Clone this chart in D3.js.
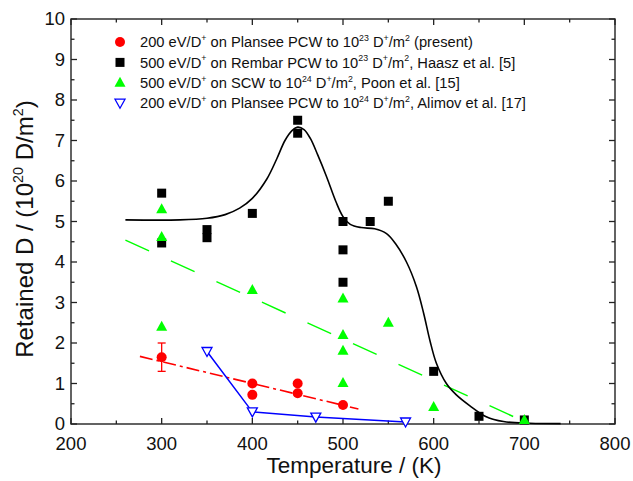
<!DOCTYPE html>
<html>
<head>
<meta charset="utf-8">
<script src="https://cdn.jsdelivr.net/npm/d3@7/dist/d3.min.js"></script>
<style>
  body { margin: 0; background: #fff; }
  svg { display: block; font-family: "Liberation Sans", Arial, sans-serif; }
</style>
</head>
<body>
<svg id="chart" width="633" height="481"></svg>
<script>
// values: [temperature K, retained D 1e20/m2]
var present = [[300, 1.65], [400, 1.0], [400, 0.72], [450, 1.0], [450, 0.76], [500, 0.47]];
var presentErr = [[300, 1.3, 2.0]];
var presentFit = [[276, 1.67], [517, 0.37]];
var haasz = [[300, 5.7], [300, 4.47], [350, 4.8], [350, 4.6], [400, 5.2], [450, 7.5], [450, 7.18],
  [500, 5.0], [500, 4.3], [500, 3.5], [530, 5.0], [550, 5.5], [600, 1.3], [650, 0.19], [700, 0.1]];
var haaszCurve = [[260, 5.04], [320, 5.04], [350, 5.08], [370, 5.17], [386, 5.33], [400, 5.57], [416, 6.05],
  [427, 6.55], [436, 7.0], [444, 7.25], [450, 7.33], [457, 7.27], [464, 7.05], [472, 6.65], [482, 6.1],
  [492, 5.5], [500, 5.12], [508, 4.93], [520, 4.85], [535, 4.82], [548, 4.7], [558, 4.45], [570, 4.0],
  [581, 3.39], [589, 2.73], [596, 2.05], [603, 1.5], [614, 1.0], [625, 0.72], [640, 0.45], [658, 0.18],
  [677, 0.06], [706, 0.02], [740, 0.01]];
var poon = [[300, 5.3], [300, 4.62], [300, 2.4], [400, 3.31], [500, 3.1], [500, 2.2], [500, 1.81],
  [500, 1.01], [550, 2.5], [600, 0.42], [700, 0.1]];
var poonFit = [[260, 4.54], [700, 0.06]];
var alimov = [[350, 1.79], [400, 0.3], [470, 0.17], [569, 0.05]];

var xTicks = [200, 300, 400, 500, 600, 700, 800];
var yTicks = [0, 1, 2, 3, 4, 5, 6, 7, 8, 9, 10];

// legend rows: pieces of [normal text, superscript]
var legendRows = [
  [["200 eV/D", "+"], [" on Plansee PCW to 10", "23"], [" D", "+"], ["/m", "2"], [" (present)", ""]],
  [["500 eV/D", "+"], [" on Rembar PCW to 10", "23"], [" D", "+"], ["/m", "2"], [", Haasz et al. [5]", ""]],
  [["500 eV/D", "+"], [" on SCW to 10", "24"], [" D", "+"], ["/m", "2"], [", Poon et al. [15]", ""]],
  [["200 eV/D", "+"], [" on Plansee PCW to 10", "24"], [" D", "+"], ["/m", "2"], [", Alimov et al. [17]", ""]]
];
var legendKeys = ["circle", "square", "tri", "tridown"];

var svg = d3.select('#chart');
var x = d3.scaleLinear().domain([200, 800]).range([71, 615]);
var y = d3.scaleLinear().domain([0, 10]).range([424, 19]);

var RED = '#ff0000', GREEN = '#00ff00', BLUE = '#0000ff';

// frame + ticks
var axisCol = '#222';
function minors(a) {
  var out = [];
  for (var i = 0; i < a.length - 1; i++) out.push((a[i] + a[i + 1]) / 2);
  return out;
}
var xMin = minors(xTicks), yMin = minors(yTicks);

var ax = svg.append('g');
ax.append('rect').attr('x', x(200)).attr('y', y(10)).attr('width', x(800) - x(200)).attr('height', y(0) - y(10))
  .attr('fill', 'none').attr('stroke', axisCol).attr('stroke-width', 1.4);

function tick(x1, y1, x2, y2) {
  ax.append('line').attr('x1', x1).attr('y1', y1).attr('x2', x2).attr('y2', y2)
    .attr('stroke', axisCol).attr('stroke-width', 1.3);
}
xTicks.forEach(function(t) { tick(x(t), y(0), x(t), y(0) - 6); tick(x(t), y(10), x(t), y(10) + 6); });
xMin.forEach(function(t) { tick(x(t), y(0), x(t), y(0) - 3.5); tick(x(t), y(10), x(t), y(10) + 3.5); });
yTicks.forEach(function(t) { tick(x(200), y(t), x(200) + 6, y(t)); tick(x(800), y(t), x(800) - 6, y(t)); });
yMin.forEach(function(t) { tick(x(200), y(t), x(200) + 3.5, y(t)); tick(x(800), y(t), x(800) - 3.5, y(t)); });

ax.selectAll('.xl').data(xTicks).enter().append('text')
  .attr('x', function(d) { return x(d); }).attr('y', 450)
  .attr('text-anchor', 'middle').attr('font-size', 18.5).attr('fill', '#111').text(function(d) { return d; });
ax.selectAll('.yl').data(yTicks).enter().append('text')
  .attr('x', 65).attr('y', function(d) { return y(d) + 6; })
  .attr('text-anchor', 'end').attr('font-size', 18.5).attr('fill', '#111').text(function(d) { return d; });

// axis titles
ax.append('text').attr('x', 354).attr('y', 473).attr('text-anchor', 'middle')
  .attr('font-size', 22.5).attr('fill', '#111').text('Temperature / (K)');

function richText(sel, parts, size) {
  var up = false;
  parts.forEach(function(p) {
    sel.append('tspan').attr('font-size', size).attr('dy', up ? size * 0.42 : 0).text(p[0]);
    up = false;
    if (p[1]) {
      sel.append('tspan').attr('font-size', size * 0.6).attr('dy', -size * 0.42).text(p[1]);
      up = true;
    }
  });
}
var yt = ax.append('text').attr('transform', 'translate(33,229) rotate(-90)')
  .attr('text-anchor', 'middle').attr('fill', '#111');
richText(yt, [["Retained D / (10", "20"], [" D/m", "2"], [")", ""]], 24);

// fits and curves
var line = d3.line().x(function(d) { return x(d[0]); }).y(function(d) { return y(d[1]); });
var smooth = d3.line().x(function(d) { return x(d[0]); }).y(function(d) { return y(d[1]); })
  .curve(d3.curveCatmullRom.alpha(0.5));
var plot = svg.append('g');

plot.append('path').attr('d', line(poonFit)).attr('fill', 'none').attr('stroke', GREEN)
  .attr('stroke-width', 1.4).attr('stroke-dasharray', '26,24');
plot.append('path').attr('d', line(presentFit)).attr('fill', 'none').attr('stroke', RED)
  .attr('stroke-width', 1.6).attr('stroke-dasharray', '13,4,3,4');
plot.append('path').attr('d', smooth(haaszCurve)).attr('fill', 'none')
  .attr('stroke', '#000').attr('stroke-width', 1.6);
plot.append('path').attr('d', line(alimov)).attr('fill', 'none').attr('stroke', BLUE).attr('stroke-width', 1.5);

// markers
var triUp = 'M0,-6L5.5,4L-5.5,4Z', triDown = 'M0,5L5,-4L-5,-4Z';
function marker(g, kind, cx, cy) {
  if (kind === 'circle') g.append('circle').attr('cx', cx).attr('cy', cy).attr('r', 5).attr('fill', RED);
  if (kind === 'square') g.append('rect').attr('x', cx - 4.5).attr('y', cy - 4.5).attr('width', 9).attr('height', 9).attr('fill', '#000');
  if (kind === 'tri') g.append('path').attr('d', triUp).attr('transform', 'translate(' + cx + ',' + cy + ')').attr('fill', GREEN);
  if (kind === 'tridown') g.append('path').attr('d', triDown).attr('transform', 'translate(' + cx + ',' + cy + ')')
    .attr('fill', '#fff').attr('stroke', BLUE).attr('stroke-width', 1.3);
}

presentErr.forEach(function(e) {
  var cx = x(e[0]);
  plot.append('line').attr('x1', cx).attr('x2', cx).attr('y1', y(e[1])).attr('y2', y(e[2])).attr('stroke', RED).attr('stroke-width', 1.3);
  plot.append('line').attr('x1', cx - 4).attr('x2', cx + 4).attr('y1', y(e[1])).attr('y2', y(e[1])).attr('stroke', RED).attr('stroke-width', 1.3);
  plot.append('line').attr('x1', cx - 4).attr('x2', cx + 4).attr('y1', y(e[2])).attr('y2', y(e[2])).attr('stroke', RED).attr('stroke-width', 1.3);
});
haasz.forEach(function(d) { marker(plot, 'square', x(d[0]), y(d[1])); });
poon.forEach(function(d) { marker(plot, 'tri', x(d[0]), y(d[1])); });
present.forEach(function(d) { marker(plot, 'circle', x(d[0]), y(d[1])); });
alimov.forEach(function(d) { marker(plot, 'tridown', x(d[0]), y(d[1])); });

// legend
var lg = svg.append('g');
legendRows.forEach(function(row, i) {
  var cy = 42 + i * 20.4;
  marker(lg, legendKeys[i], 120, cy);
  var t = lg.append('text').attr('x', 140).attr('y', cy + 5.2).attr('fill', '#111');
  richText(t, row, 14.7);
});
</script>
</body>
</html>
